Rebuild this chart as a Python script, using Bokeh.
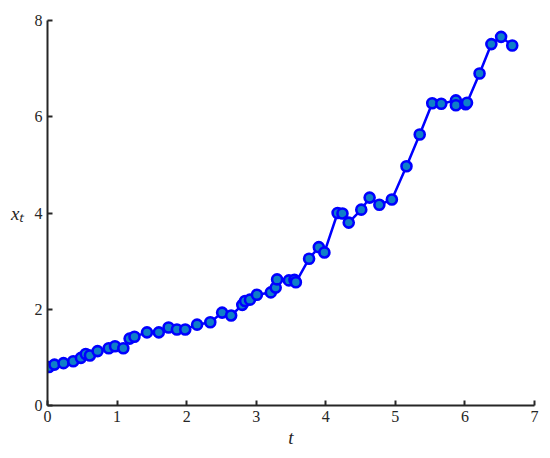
from bokeh.plotting import figure
from bokeh.models import Range1d, FixedTicker
from bokeh.embed import file_html
from bokeh.resources import INLINE

t = [0.02, 0.10, 0.23, 0.37, 0.48, 0.55, 0.61, 0.72, 0.88, 0.97, 1.09, 1.18, 1.25,
     1.43, 1.60, 1.74, 1.86, 1.98, 2.15, 2.34, 2.51, 2.64, 2.80, 2.84, 2.91, 3.01,
     3.21, 3.28, 3.30, 3.47, 3.55, 3.57, 3.76, 3.90, 3.98, 4.17, 4.24, 4.33, 4.51,
     4.63, 4.77, 4.95, 5.16, 5.35, 5.53, 5.66, 5.87, 5.87, 6.01, 6.03, 6.21, 6.38,
     6.52, 6.68]
x = [0.80, 0.85, 0.88, 0.92, 0.99, 1.07, 1.04, 1.13, 1.19, 1.23, 1.19, 1.39, 1.43,
     1.52, 1.52, 1.62, 1.58, 1.58, 1.68, 1.73, 1.93, 1.87, 2.09, 2.17, 2.20, 2.30,
     2.35, 2.45, 2.62, 2.60, 2.61, 2.56, 3.05, 3.29, 3.18, 4.00, 3.99, 3.80, 4.07,
     4.32, 4.17, 4.28, 4.97, 5.63, 6.28, 6.27, 6.34, 6.24, 6.26, 6.29, 6.90, 7.51,
     7.66, 7.48]
xticks = [0, 1, 2, 3, 4, 5, 6, 7]
yticks = [0, 2, 4, 6, 8]

SERIF = "Liberation Serif"

p = figure(width=550, height=458, output_backend="svg", toolbar_location=None,
           x_range=Range1d(0, 7), y_range=Range1d(0, 8),
           min_border_left=47, min_border_right=16, min_border_top=20, min_border_bottom=53)
p.outline_line_color = None
p.xgrid.visible = False
p.ygrid.visible = False

for ax in (p.xaxis[0], p.yaxis[0]):
    ax.axis_line_color = "#262626"
    ax.axis_line_width = 2
    ax.major_tick_line_color = "#262626"
    ax.major_tick_line_width = 2
    ax.major_tick_in = 5
    ax.major_tick_out = 0
    ax.minor_tick_line_color = None
    ax.major_label_text_font = SERIF
    ax.major_label_text_font_size = "16px"
    ax.major_label_text_color = "#262626"
    ax.major_label_standoff = 5
    ax.axis_label_text_font = SERIF
    ax.axis_label_text_font_style = "italic"
    ax.axis_label_text_font_size = "19px"
    ax.axis_label_text_color = "#262626"
p.xaxis[0].ticker = FixedTicker(ticks=xticks)
p.yaxis[0].ticker = FixedTicker(ticks=yticks)
p.xaxis[0].axis_label = "t"
p.xaxis[0].axis_label_standoff = 2
p.yaxis[0].axis_label = "x\u209c"
p.yaxis[0].axis_label_orientation = "horizontal"
p.yaxis[0].axis_label_standoff = 8

p.line(t, x, line_color="#0000ff", line_width=2.5)
p.scatter(t, x, size=10, line_color="#0000ff", line_width=2.6, fill_color="#0f7fc8")

open("out.html", "w").write(file_html(p, INLINE))
